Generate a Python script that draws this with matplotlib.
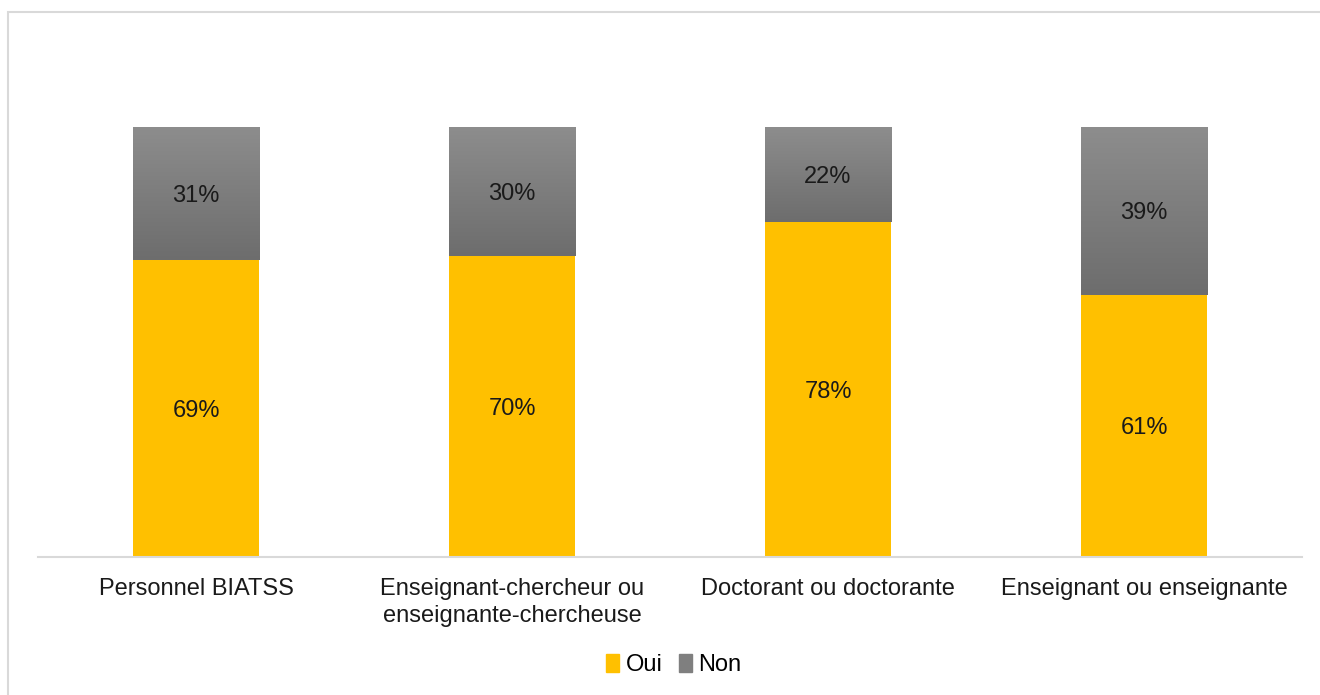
import numpy as np
import matplotlib.pyplot as plt
from matplotlib.patches import Rectangle

plt.rcParams['font.family'] = ['Liberation Sans', 'DejaVu Sans']

categories = ['Personnel BIATSS',
              'Enseignant-chercheur ou\nenseignante-chercheuse',
              'Doctorant ou doctorante',
              'Enseignant ou enseignante']
oui = [69, 70, 78, 61]
non = [31, 30, 22, 39]

yellow = '#FFC000'
fig = plt.figure(figsize=(13.2, 6.95), dpi=100)
ax = fig.add_axes([38 / 1320, 138 / 695, 1264 / 1320, 430 / 695])

# frame around the chart area (only top and left edges are visible)
fig.patches.append(Rectangle((8 / 1320, -0.05), 1.1, (695 - 12) / 695 + 0.05,
                             transform=fig.transFigure, fill=False,
                             edgecolor='#d9d9d9', linewidth=1.5))

x = np.arange(len(categories))
width = 0.40
bars_oui = ax.bar(x, oui, width, color=yellow, label='Oui')
bars_non = ax.bar(x, non, width, bottom=oui, color='#7f7f7f', label='Non')

# vertical grey gradient inside each "Non" bar
grad = np.linspace(0, 1, 256).reshape(-1, 1)
cmap = plt.matplotlib.colors.LinearSegmentedColormap.from_list('g', ['#6d6d6d', '#8d8d8d'])
for b in bars_non:
    b.set_facecolor('none')
    x0, y0 = b.get_x(), b.get_y()
    im = ax.imshow(grad, cmap=cmap, aspect='auto', origin='lower',
                   extent=(x0, x0 + b.get_width(), y0, y0 + b.get_height()), zorder=1.5)
    im.set_clip_path(b)

for bars, vals in ((bars_oui, oui), (bars_non, non)):
    for b, v in zip(bars, vals):
        ax.text(b.get_x() + b.get_width() / 2, b.get_y() + b.get_height() / 2, f'{v}%',
                ha='center', va='center_baseline', fontsize=17, color='#1a1a1a', zorder=3)

ax.set_xlim(-0.5, 3.5)
ax.set_ylim(0, 100)
ax.set_xticks(x)
ax.set_xticklabels(categories, fontsize=17, color='#1a1a1a', linespacing=1.3)
ax.tick_params(axis='x', length=0, pad=15)
ax.set_yticks([])
for s in ['top', 'right', 'left']:
    ax.spines[s].set_visible(False)
ax.spines['bottom'].set_color('#d9d9d9')
ax.spines['bottom'].set_linewidth(1.5)

h1 = Rectangle((0, 0), 1, 1, color=yellow)
h2 = Rectangle((0, 0), 1, 1, color='#7f7f7f')
fig.legend([h1, h2], ['Oui', 'Non'], loc='center', bbox_to_anchor=(674 / 1320, 1 - 665 / 695),
           ncol=2, frameon=False, fontsize=17, handlelength=0.55, handleheight=0.78,
           handletextpad=0.3, columnspacing=0.65, borderpad=0)

fig.savefig('out.png', dpi=100)
